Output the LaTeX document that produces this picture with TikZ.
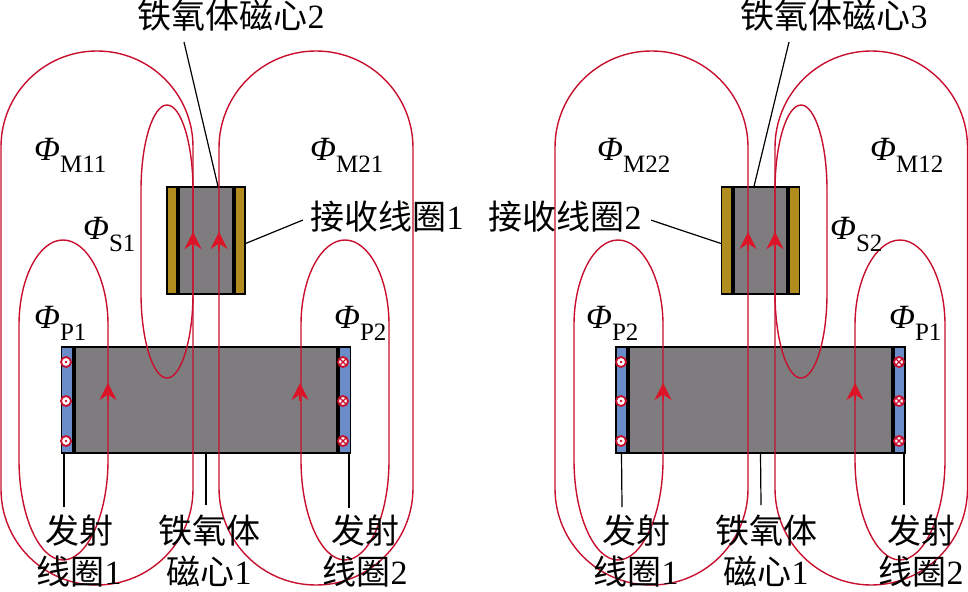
\documentclass[tikz,border=0pt]{standalone}
\usepackage{fontspec}
\setmainfont{Liberation Serif}
\newfontfamily\cjk{Noto Sans CJK SC}
\usetikzlibrary{arrows.meta}
\definecolor{fluxred}{HTML}{C8102E}
\definecolor{headred}{HTML}{DC1428}
\definecolor{ferritegrey}{HTML}{7F7C80}
\definecolor{stripblue}{HTML}{6A8CC8}
\definecolor{stripgold}{HTML}{B08D1E}
\newcommand{\fluxlabel}[2]{{\fontsize{34}{34}\selectfont\itshape Φ}\raisebox{-12pt}{\fontsize{25}{25}\selectfont #1#2}}
\tikzset{
  bar/.style={draw=black,line width=1.2pt,inner sep=0pt,minimum height=#1},
  flux/.style={draw=fluxred,line width=1.4pt},
  fluxhead/.style={-{Stealth[length=17pt,width=17pt]},draw=fluxred,line width=1.4pt,color=headred},
  leader/.style={draw=black,line width=1.2pt},
  coilout/.style={circle,draw=fluxred,line width=1.8pt,fill=white,inner sep=0pt,minimum size=10pt,
    path picture={\fill [fluxred] (path picture bounding box.center) circle (1.3pt);}},
  coilin/.style={circle,draw=fluxred,line width=1.8pt,fill=white,inner sep=0pt,minimum size=10pt,
    path picture={\draw [fluxred,line width=1.2pt] (path picture bounding box.north west) -- (path picture bounding box.south east)
      (path picture bounding box.north east) -- (path picture bounding box.south west);}},
  textlabel/.style={inner sep=0pt,align=center,font=\fontsize{34}{41}\selectfont},
  phi/.style={inner sep=0pt,anchor=base west}
}
\begin{document}
\begin{tikzpicture}[x=1pt,y=-1pt]
    \useasboundingbox (0,0) rectangle (968,591);
    \path (206,400) node [bar=106,fill=ferritegrey,minimum width=262] (corea) {};
    \path (67,400) node [bar=106,fill=stripblue,minimum width=11] (stripa) {};
    \path (345,400) node [bar=106,fill=stripblue,minimum width=11] (stripb) {};
    \path (73.5,400) node [bar=106,fill=black,minimum width=2] (edgea) {};
    \path (338.5,400) node [bar=106,fill=black,minimum width=2] (edgeb) {};
    \path (206,240.5) node [bar=107,fill=ferritegrey,minimum width=55] (recva) {};
    \path (172,240.5) node [bar=107,fill=stripgold,minimum width=10] (golda) {};
    \path (240,240.5) node [bar=107,fill=stripgold,minimum width=10] (goldb) {};
    \path (178.5,240.5) node [bar=107,fill=black,minimum width=2] (edgec) {};
    \path (233.5,240.5) node [bar=107,fill=black,minimum width=2] (edged) {};
    \path (760.5,400) node [bar=106,fill=ferritegrey,minimum width=262] (coreb) {};
    \path (621.5,400) node [bar=106,fill=stripblue,minimum width=11] (stripc) {};
    \path (899.5,400) node [bar=106,fill=stripblue,minimum width=11] (stripd) {};
    \path (628.5,400) node [bar=106,fill=black,minimum width=2] (edgee) {};
    \path (892.5,400) node [bar=106,fill=black,minimum width=2] (edgef) {};
    \path (760.5,240.5) node [bar=107,fill=ferritegrey,minimum width=55] (recvb) {};
    \path (726.5,240.5) node [bar=107,fill=stripgold,minimum width=10] (goldc) {};
    \path (794.5,240.5) node [bar=107,fill=stripgold,minimum width=10] (goldd) {};
    \path (733.5,240.5) node [bar=107,fill=black,minimum width=2] (edgeg) {};
    \path (787.5,240.5) node [bar=107,fill=black,minimum width=2] (edgeh) {};
    \draw [flux,rounded corners=95.9] (1,51) rectangle (193,585);
    \draw [flux,rounded corners=96.9] (219,51) rectangle (413,585);
    \draw [flux,rounded corners=96.4] (555,51) rectangle (748,585);
    \draw [flux,rounded corners=96.4] (775,51) rectangle (967.5,585);
    \draw [flux] (141,190) .. controls (141,143) and (153,105) .. (167,105)
	.. controls (181,105) and (193,143) .. (193,190) -- (193,293)
	.. controls (193,340) and (181,378) .. (167,378)
	.. controls (153,378) and (141,340) .. (141,293) -- cycle;
    \draw [flux] (775,190) .. controls (775,143) and (787,105) .. (801,105)
	.. controls (815,105) and (827,143) .. (827,190) -- (827,293)
	.. controls (827,340) and (815,378) .. (801,378)
	.. controls (787,378) and (775,340) .. (775,293) -- cycle;
    \draw [flux] (19,325) .. controls (19,278) and (39,240) .. (63,240)
	.. controls (87,240) and (108,278) .. (108,325) -- (108,460)
	.. controls (108,515) and (87,560) .. (63,560)
	.. controls (39,560) and (19,515) .. (19,460) -- cycle;
    \draw [flux] (301,325) .. controls (301,278) and (321,240) .. (345,240)
	.. controls (369,240) and (389,278) .. (389,325) -- (389,460)
	.. controls (389,515) and (369,560) .. (345,560)
	.. controls (321,560) and (301,515) .. (301,460) -- cycle;
    \draw [flux] (574,325) .. controls (574,278) and (594,240) .. (618,240)
	.. controls (642,240) and (663,278) .. (663,325) -- (663,460)
	.. controls (663,515) and (642,560) .. (618,560)
	.. controls (594,560) and (574,515) .. (574,460) -- cycle;
    \draw [flux] (855,325) .. controls (855,278) and (876,240) .. (900,240)
	.. controls (924,240) and (945,278) .. (945,325) -- (945,460)
	.. controls (945,515) and (924,560) .. (900,560)
	.. controls (876,560) and (855,515) .. (855,460) -- cycle;
    \draw [fluxhead] (193,250) -- (193,232);
    \draw [fluxhead] (219,250) -- (219,232);
    \draw [fluxhead] (108,401) -- (108,383);
    \draw [fluxhead] (300,401) -- (300,383);
    \draw [fluxhead] (748,250) -- (748,232);
    \draw [fluxhead] (775,250) -- (775,232);
    \draw [fluxhead] (663,401) -- (663,383);
    \draw [fluxhead] (855,401) -- (855,383);
    \path (66,362) node [coilout] (outa) {};
    \path (66,401) node [coilout] (outb) {};
    \path (66,441) node [coilout] (outc) {};
    \path (343,362) node [coilin] (ina) {};
    \path (343,401) node [coilin] (inb) {};
    \path (343,441) node [coilin] (inc) {};
    \path (621,362) node [coilout] (outd) {};
    \path (621,401) node [coilout] (oute) {};
    \path (621,441) node [coilout] (outf) {};
    \path (899,362) node [coilin] (ind) {};
    \path (899,401) node [coilin] (ine) {};
    \path (899,441) node [coilin] (inf) {};
    \path (231,16) node [textlabel] (ferrtwo) {{\cjk 铁氧体磁心}2};
    \path (834,16) node [textlabel] (ferrthree) {{\cjk 铁氧体磁心}3};
    \path (387,217) node [textlabel] (rxone) {{\cjk 接收线圈}1};
    \path (565,217) node [textlabel] (rxtwo) {{\cjk 接收线圈}2};
    \path (79,551) node [textlabel] (txa) {{\cjk 发射}\\{\cjk 线圈}1};
    \path (209,551) node [textlabel] (ferra) {{\cjk 铁氧体}\\{\cjk 磁心}1};
    \path (365,551) node [textlabel] (txb) {{\cjk 发射}\\{\cjk 线圈}2};
    \path (636,551) node [textlabel] (txc) {{\cjk 发射}\\{\cjk 线圈}1};
    \path (766,551) node [textlabel] (ferrb) {{\cjk 铁氧体}\\{\cjk 磁心}1};
    \path (921,551) node [textlabel] (txd) {{\cjk 发射}\\{\cjk 线圈}2};
    \coordinate (leadtwo) at (184,42);
    \coordinate (leadthree) at (789,42);
    \coordinate (leadtxa) at (64,507);
    \coordinate (leadferra) at (206,505);
    \coordinate (leadtxb) at (349,508);
    \coordinate (leadtxc) at (622,507);
    \coordinate (leadferrb) at (761,505);
    \coordinate (leadtxd) at (904,505);
    \draw [leader] (leadtwo) -- ([xshift=12]recva.north);
    \draw [leader] (leadthree) -- ([xshift=-6.5]recvb.north);
    \draw [leader,shorten <=8pt] (rxone.west) -- ([yshift=-3]goldb.east);
    \draw [leader,shorten <=10pt] (rxtwo.east) -- ([yshift=-3]goldc.west);
    \draw [leader] ([xshift=-3]stripa.south) -- (leadtxa);
    \draw [leader] (corea.south) -- (leadferra);
    \draw [leader] ([xshift=4]stripb.south) -- (leadtxb);
    \draw [leader] (stripc.south) -- (leadtxc);
    \draw [leader] (coreb.south) -- (leadferrb);
    \draw [leader] ([xshift=4.5]stripd.south) -- (leadtxd);
    \path (34,160) node [phi] (phimaa) {\fluxlabel{M}{11}};
    \path (310,160) node [phi] (phimba) {\fluxlabel{M}{21}};
    \path (83,239) node [phi] (phisa) {\fluxlabel{S}{1}};
    \path (34,328) node [phi] (phipa) {\fluxlabel{P}{1}};
    \path (334,328) node [phi] (phipb) {\fluxlabel{P}{2}};
    \path (597,160) node [phi] (phimbb) {\fluxlabel{M}{22}};
    \path (870,160) node [phi] (phimab) {\fluxlabel{M}{12}};
    \path (830,239) node [phi] (phisb) {\fluxlabel{S}{2}};
    \path (586,328) node [phi] (phipc) {\fluxlabel{P}{2}};
    \path (889,328) node [phi] (phipd) {\fluxlabel{P}{1}};
\end{tikzpicture}
\end{document}
